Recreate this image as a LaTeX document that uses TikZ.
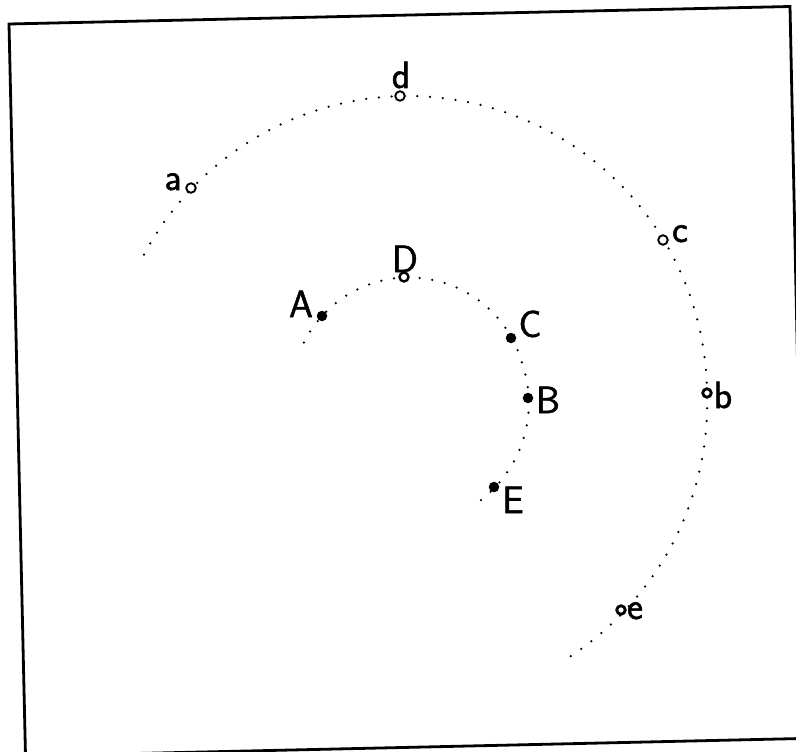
\documentclass[tikz,border=0pt]{standalone}
\usepackage{fontspec}
\newfontfamily\lblfont{lmsans17-regular.otf}[FakeBold=1.4]
\usepackage{tikz}
\usetikzlibrary{positioning}

\begin{document}
\begin{tikzpicture}[x=1pt,y=-1pt,
 opendot/.style={circle,draw=black,line width=1.9pt,fill=white,minimum size=9.5pt,inner sep=0pt},
 fulldot/.style={circle,fill=black,minimum size=10.5pt,inner sep=0pt},
 track/.style={line cap=round,line width=2.5pt,dash pattern=on 0pt off 12.8pt},
 lbl/.style={font=\lblfont\fontsize{38}{40}\selectfont,anchor=base,inner sep=0pt}]
\path[use as bounding box,clip] (0,0) rectangle (796,752);
\fill[white] (0,0) rectangle (796,752);
% scanned frame, slightly skewed
\draw[line width=2.8pt,line join=miter] (9,24)--(790,6.5)--(805.5,738.4)--(25.5,756)--cycle;
% outer and inner tracks
\draw[track] plot[domain=152:-59.5,samples=240]
 ({408+(299-0.15*min(\x,0))*cos(\x)},{395-(299-0.15*min(\x,0))*sin(\x)});
\draw[track] plot[domain=153.5:-58.6,samples=200]
 ({409+(117.5+0.14*max(15-\x,0))*cos(\x)},{395-(117.5+0.14*max(15-\x,0))*sin(\x)});
% open markers on the outer track
\foreach \n/\x/\y in {a/191/188,d/400/96,c/663/240,b/707/393,e/621/610}
 \node[opendot] (\n) at (\x,\y) {};
\node[opendot,minimum size=7.5pt] at (b) {};
\node[opendot,minimum size=7.5pt] at (e) {};
% full markers on the inner track
\foreach \n/\x/\y in {A/322/316,C/511/338,B/528/398,E/494/487}
 \node[fulldot] (\n) at (\x,\y) {};
\node[opendot,minimum size=9pt,line width=2.4pt] (D) at (404,277) {};
% labels
\foreach \n/\x/\y in {a/173/190,d/401/88,c/680/242,b/723/408,e/635/619,
A/301/317,D/405/272,C/530/337,B/548/413,E/513/513}
 \node[lbl] (lbl-\n) at (\x,\y) {\n};
\end{tikzpicture}
\end{document}
